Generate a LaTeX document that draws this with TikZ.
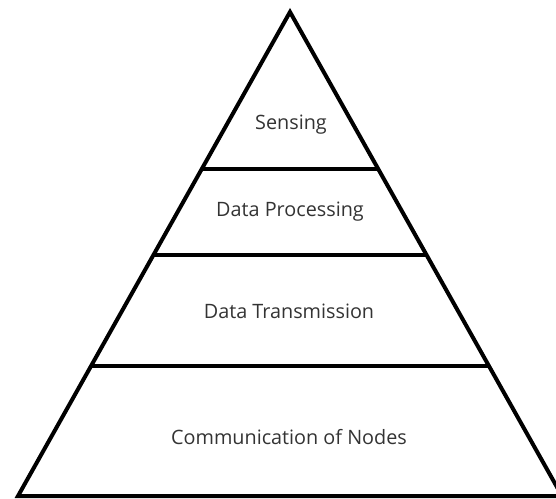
\documentclass[tikz,border=0pt]{standalone}
\usepackage{fontspec}
\setmainfont{Open Sans}
\usetikzlibrary{calc}
\definecolor{labelgray}{HTML}{333333}
\tikzset{
  edge/.style={line width=4pt, line join=miter, draw=black},
  layer/.style={text=labelgray, font=\fontsize{19.8}{23}\selectfont, inner sep=0pt, anchor=center}
}
\begin{document}
\begin{tikzpicture}[x=1pt, y=-1pt]
  \useasboundingbox (0,0) rectangle (556,498);
  \clip (0,0) rectangle (556,498);
  % pyramid corners
  \coordinate (apex) at (290,12);
  \coordinate (bl) at (18,496);
  \coordinate (br) at (562,496);
  % layer boundaries along the sides (fraction of the height from the apex)
  \coordinate (l1) at ($(apex)!0.3244!(bl)$);
  \coordinate (r1) at ($(apex)!0.3244!(br)$);
  \coordinate (l2) at ($(apex)!0.5021!(bl)$);
  \coordinate (r2) at ($(apex)!0.5021!(br)$);
  \coordinate (l3) at ($(apex)!0.7314!(bl)$);
  \coordinate (r3) at ($(apex)!0.7314!(br)$);
  % outline and dividers
  \draw[edge] (bl) -- (apex) -- (br) -- cycle;
  \draw[edge] (l1) -- (r1);
  \draw[edge] (l2) -- (r2);
  \draw[edge] (l3) -- (r3);
  % layer labels
  \node[layer] (sensing) at (291,125) {Sensing};
  \node[layer] (processing) at (290,212) {Data Processing};
  \node[layer] (transmission) at (289,311) {Data Transmission};
  \node[layer] (communication) at (289,437) {Communication of Nodes};
\end{tikzpicture}
\end{document}
